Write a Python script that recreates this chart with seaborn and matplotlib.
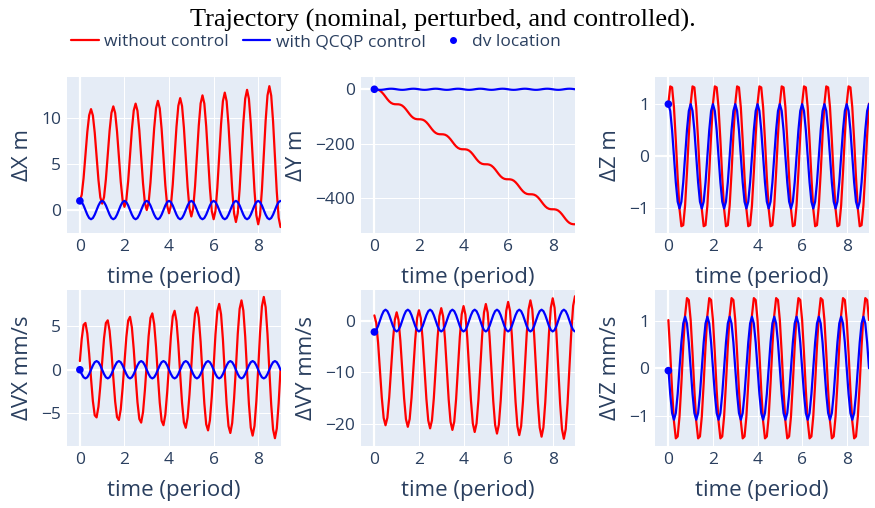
import numpy as np
import pandas as pd
import matplotlib
matplotlib.use("Agg")
import matplotlib.pyplot as plt
from matplotlib.lines import Line2D
import seaborn as sns

# ---------------- data ----------------
# samples every 1/12 of an orbital period, t = 0 ... 9
time_period = np.linspace(0, 9, 109)

dx_red = [1.0, 1.67, 3.5, 6.0, 8.5, 10.33, 11.0, 10.31, 8.43, 5.85, 3.28, 1.39,
          0.7, 1.41, 3.35, 6.0, 8.65, 10.59, 11.3, 10.57, 8.56, 5.83, 3.09, 1.08,
          0.35, 1.1, 3.16, 5.98, 8.79, 10.85, 11.6, 10.82, 8.7, 5.8, 2.9, 0.78,
          0.0, 0.8, 2.98, 5.95, 8.93, 11.1, 11.9, 11.08, 8.84, 5.78, 2.71, 0.47,
          -0.35, 0.49, 2.79, 5.93, 9.06, 11.36, 12.2, 11.34, 8.98, 5.75, 2.53, 0.16,
          -0.7, 0.18, 2.6, 5.9, 9.2, 11.62, 12.5, 11.6, 9.13, 5.75, 2.38, -0.1,
          -1.0, -0.08, 2.45, 5.9, 9.35, 11.88, 12.8, 11.86, 9.28, 5.75, 2.23, -0.36,
          -1.3, -0.34, 2.3, 5.9, 9.5, 12.14, 13.1, 12.12, 9.44, 5.78, 2.11, -0.57,
          -1.55, -0.54, 2.21, 5.98, 9.74, 12.49, 13.5, 12.47, 9.66, 5.83, 1.99, -0.82,
          -1.85]
dx_blue = [1.0, 0.87, 0.5, 0.0, -0.5, -0.87, -1.0, -0.87, -0.5, 0.0, 0.5, 0.87,
           1.0, 0.87, 0.5, 0.0, -0.5, -0.87, -1.0, -0.87, -0.5, 0.0, 0.5, 0.87,
           1.0, 0.87, 0.5, 0.0, -0.5, -0.87, -1.0, -0.87, -0.5, 0.0, 0.5, 0.87,
           1.0, 0.87, 0.5, 0.0, -0.5, -0.87, -1.0, -0.87, -0.5, 0.0, 0.5, 0.87,
           1.0, 0.87, 0.5, 0.0, -0.5, -0.87, -1.0, -0.87, -0.5, 0.0, 0.5, 0.87,
           1.0, 0.87, 0.5, 0.0, -0.5, -0.87, -1.0, -0.87, -0.5, 0.0, 0.5, 0.87,
           1.0, 0.87, 0.5, 0.0, -0.5, -0.87, -1.0, -0.87, -0.5, 0.0, 0.5, 0.87,
           1.0, 0.87, 0.5, 0.0, -0.5, -0.87, -1.0, -0.87, -0.5, 0.0, 0.5, 0.87,
           1.0, 0.87, 0.5, 0.0, -0.5, -0.87, -1.0, -0.87, -0.5, 0.0, 0.5, 0.87,
           1.0]

dy_red = [0.0, -0.2, -1.6, -5.0, -10.8, -18.5, -27.5, -36.5, -44.3, -50.0, -53.4, -54.8,
          -55.0, -55.2, -56.6, -60.0, -65.8, -73.5, -82.5, -91.5, -99.3, -105.0, -108.4, -109.8,
          -110.0, -110.2, -111.6, -115.0, -120.8, -128.5, -137.5, -146.5, -154.3, -160.0, -163.4, -164.8,
          -165.0, -165.2, -166.6, -170.0, -175.8, -183.5, -192.5, -201.5, -209.3, -215.0, -218.4, -219.8,
          -220.0, -220.2, -221.6, -225.0, -230.8, -238.5, -247.5, -256.5, -264.3, -270.0, -273.4, -274.8,
          -275.0, -275.2, -276.6, -280.0, -285.8, -293.5, -302.5, -311.5, -319.3, -325.0, -328.4, -329.8,
          -330.0, -330.2, -331.6, -335.0, -340.8, -348.5, -357.5, -366.5, -374.3, -380.0, -383.4, -384.8,
          -385.0, -385.2, -386.6, -390.0, -395.8, -403.5, -412.5, -421.5, -429.3, -435.0, -438.4, -439.8,
          -440.0, -440.2, -441.6, -445.0, -450.8, -458.5, -467.5, -476.5, -484.3, -490.0, -493.4, -494.8,
          -495.0]
dy_blue = [0.0, -1.0, -1.73, -2.0, -1.73, -1.0, 0.0, 1.0, 1.73, 2.0, 1.73, 1.0,
           0.0, -1.0, -1.73, -2.0, -1.73, -1.0, 0.0, 1.0, 1.73, 2.0, 1.73, 1.0,
           0.0, -1.0, -1.73, -2.0, -1.73, -1.0, 0.0, 1.0, 1.73, 2.0, 1.73, 1.0,
           0.0, -1.0, -1.73, -2.0, -1.73, -1.0, 0.0, 1.0, 1.73, 2.0, 1.73, 1.0,
           0.0, -1.0, -1.73, -2.0, -1.73, -1.0, 0.0, 1.0, 1.73, 2.0, 1.73, 1.0,
           0.0, -1.0, -1.73, -2.0, -1.73, -1.0, 0.0, 1.0, 1.73, 2.0, 1.73, 1.0,
           0.0, -1.0, -1.73, -2.0, -1.73, -1.0, 0.0, 1.0, 1.73, 2.0, 1.73, 1.0,
           0.0, -1.0, -1.73, -2.0, -1.73, -1.0, 0.0, 1.0, 1.73, 2.0, 1.73, 1.0,
           0.0, -1.0, -1.73, -2.0, -1.73, -1.0, 0.0, 1.0, 1.73, 2.0, 1.73, 1.0,
           0.0]

dz_red = [1.01, 1.34, 1.32, 0.94, 0.31, -0.4, -1.01, -1.34, -1.32, -0.94, -0.31, 0.4,
          1.01, 1.34, 1.32, 0.94, 0.31, -0.4, -1.01, -1.34, -1.32, -0.94, -0.31, 0.4,
          1.01, 1.34, 1.32, 0.94, 0.31, -0.4, -1.01, -1.34, -1.32, -0.94, -0.31, 0.4,
          1.01, 1.34, 1.32, 0.94, 0.31, -0.4, -1.01, -1.34, -1.32, -0.94, -0.31, 0.4,
          1.01, 1.34, 1.32, 0.94, 0.31, -0.4, -1.01, -1.34, -1.32, -0.94, -0.31, 0.4,
          1.01, 1.34, 1.32, 0.94, 0.31, -0.4, -1.01, -1.34, -1.32, -0.94, -0.31, 0.4,
          1.01, 1.34, 1.32, 0.94, 0.31, -0.4, -1.01, -1.34, -1.32, -0.94, -0.31, 0.4,
          1.01, 1.34, 1.32, 0.94, 0.31, -0.4, -1.01, -1.34, -1.32, -0.94, -0.31, 0.4,
          1.01, 1.34, 1.32, 0.94, 0.31, -0.4, -1.01, -1.34, -1.32, -0.94, -0.31, 0.4,
          1.01]
dz_blue = [1.0, 0.87, 0.5, 0.0, -0.5, -0.87, -1.0, -0.87, -0.5, 0.0, 0.5, 0.87,
           1.0, 0.87, 0.5, 0.0, -0.5, -0.87, -1.0, -0.87, -0.5, 0.0, 0.5, 0.87,
           1.0, 0.87, 0.5, 0.0, -0.5, -0.87, -1.0, -0.87, -0.5, 0.0, 0.5, 0.87,
           1.0, 0.87, 0.5, 0.0, -0.5, -0.87, -1.0, -0.87, -0.5, 0.0, 0.5, 0.87,
           1.0, 0.87, 0.5, 0.0, -0.5, -0.87, -1.0, -0.87, -0.5, 0.0, 0.5, 0.87,
           1.0, 0.87, 0.5, 0.0, -0.5, -0.87, -1.0, -0.87, -0.5, 0.0, 0.5, 0.87,
           1.0, 0.87, 0.5, 0.0, -0.5, -0.87, -1.0, -0.87, -0.5, 0.0, 0.5, 0.87,
           1.0, 0.87, 0.5, 0.0, -0.5, -0.87, -1.0, -0.87, -0.5, 0.0, 0.5, 0.87,
           1.0, 0.87, 0.5, 0.0, -0.5, -0.87, -1.0, -0.87, -0.5, 0.0, 0.5, 0.87,
           1.0]

dvx_red = [1.0, 3.57, 5.18, 5.4, 4.18, 1.83, -1.0, -3.62, -5.26, -5.5, -4.26, -1.88,
           0.9, 3.63, 5.39, 5.7, 4.49, 2.07, -0.9, -3.68, -5.47, -5.8, -4.57, -2.12,
           0.8, 3.74, 5.68, 6.1, 4.88, 2.36, -0.8, -3.74, -5.68, -6.1, -4.88, -2.36,
           0.7, 3.86, 5.98, 6.5, 5.28, 2.64, -0.7, -3.81, -5.89, -6.4, -5.19, -2.59,
           0.55, 3.88, 6.17, 6.8, 5.61, 2.92, -0.55, -3.83, -6.08, -6.7, -5.52, -2.87,
           0.45, 3.99, 6.47, 7.2, 6.01, 3.21, -0.45, -3.89, -6.29, -7.0, -5.83, -3.11,
           0.35, 4.1, 6.76, 7.6, 6.4, 3.5, -0.35, -3.95, -6.5, -7.3, -6.14, -3.35,
           0.2, 4.17, 7.03, 8.0, 6.83, 3.83, -0.2, -3.97, -6.68, -7.6, -6.48, -3.63,
           0.1, 4.29, 7.32, 8.4, 7.22, 4.11, -0.1, -4.04, -6.89, -7.9, -6.79, -3.86,
           0.0]
dvx_blue = [0.0, -0.5, -0.87, -1.0, -0.87, -0.5, 0.0, 0.5, 0.87, 1.0, 0.87, 0.5,
            0.0, -0.5, -0.87, -1.0, -0.87, -0.5, 0.0, 0.5, 0.87, 1.0, 0.87, 0.5,
            0.0, -0.5, -0.87, -1.0, -0.87, -0.5, 0.0, 0.5, 0.87, 1.0, 0.87, 0.5,
            0.0, -0.5, -0.87, -1.0, -0.87, -0.5, 0.0, 0.5, 0.87, 1.0, 0.87, 0.5,
            0.0, -0.5, -0.87, -1.0, -0.87, -0.5, 0.0, 0.5, 0.87, 1.0, 0.87, 0.5,
            0.0, -0.5, -0.87, -1.0, -0.87, -0.5, 0.0, 0.5, 0.87, 1.0, 0.87, 0.5,
            0.0, -0.5, -0.87, -1.0, -0.87, -0.5, 0.0, 0.5, 0.87, 1.0, 0.87, 0.5,
            0.0, -0.5, -0.87, -1.0, -0.87, -0.5, 0.0, 0.5, 0.87, 1.0, 0.87, 0.5,
            0.0, -0.5, -0.87, -1.0, -0.87, -0.5, 0.0, 0.5, 0.87, 1.0, 0.87, 0.5,
            0.0]

dvy_red = [1.0, -0.42, -4.3, -9.6, -14.9, -18.78, -20.2, -18.74, -14.75, -9.3, -3.85, 0.14,
           1.6, 0.12, -3.92, -9.45, -14.98, -19.02, -20.5, -18.99, -14.88, -9.25, -3.63, 0.49,
           2.0, 0.47, -3.7, -9.4, -15.1, -19.27, -20.8, -19.25, -15.0, -9.2, -3.4, 0.85,
           2.4, 0.83, -3.47, -9.35, -15.23, -19.53, -21.1, -19.5, -15.13, -9.15, -3.18, 1.2,
           2.8, 1.17, -3.27, -9.35, -15.43, -19.87, -21.5, -19.85, -15.33, -9.15, -2.98, 1.55,
           3.2, 1.53, -3.05, -9.3, -15.55, -20.13, -21.8, -20.1, -15.45, -9.1, -2.75, 1.9,
           3.6, 1.88, -2.82, -9.25, -15.68, -20.38, -22.1, -20.36, -15.6, -9.1, -2.6, 2.16,
           3.9, 2.14, -2.67, -9.25, -15.83, -20.64, -22.4, -20.61, -15.73, -9.05, -2.38, 2.51,
           4.3, 2.48, -2.47, -9.25, -16.03, -20.98, -22.8, -20.96, -15.93, -9.05, -2.18, 2.86,
           4.7]
dvy_blue = [-2.1, -1.82, -1.05, 0.0, 1.05, 1.82, 2.1, 1.82, 1.05, 0.0, -1.05, -1.82,
            -2.1, -1.82, -1.05, 0.0, 1.05, 1.82, 2.1, 1.82, 1.05, 0.0, -1.05, -1.82,
            -2.1, -1.82, -1.05, 0.0, 1.05, 1.82, 2.1, 1.82, 1.05, 0.0, -1.05, -1.82,
            -2.1, -1.82, -1.05, 0.0, 1.05, 1.82, 2.1, 1.82, 1.05, 0.0, -1.05, -1.82,
            -2.1, -1.82, -1.05, 0.0, 1.05, 1.82, 2.1, 1.82, 1.05, 0.0, -1.05, -1.82,
            -2.1, -1.82, -1.05, 0.0, 1.05, 1.82, 2.1, 1.82, 1.05, 0.0, -1.05, -1.82,
            -2.1, -1.82, -1.05, 0.0, 1.05, 1.82, 2.1, 1.82, 1.05, 0.0, -1.05, -1.82,
            -2.1, -1.82, -1.05, 0.0, 1.05, 1.82, 2.1, 1.82, 1.05, 0.0, -1.05, -1.82,
            -2.1, -1.82, -1.05, 0.0, 1.05, 1.82, 2.1, 1.82, 1.05, 0.0, -1.05, -1.82,
            -2.1]

dvz_red = [1.01, 0.32, -0.46, -1.11, -1.47, -1.43, -1.01, -0.32, 0.46, 1.11, 1.47, 1.43,
           1.01, 0.32, -0.46, -1.11, -1.47, -1.43, -1.01, -0.32, 0.46, 1.11, 1.47, 1.43,
           1.01, 0.32, -0.46, -1.11, -1.47, -1.43, -1.01, -0.32, 0.46, 1.11, 1.47, 1.43,
           1.01, 0.32, -0.46, -1.11, -1.47, -1.43, -1.01, -0.32, 0.46, 1.11, 1.47, 1.43,
           1.01, 0.32, -0.46, -1.11, -1.47, -1.43, -1.01, -0.32, 0.46, 1.11, 1.47, 1.43,
           1.01, 0.32, -0.46, -1.11, -1.47, -1.43, -1.01, -0.32, 0.46, 1.11, 1.47, 1.43,
           1.01, 0.32, -0.46, -1.11, -1.47, -1.43, -1.01, -0.32, 0.46, 1.11, 1.47, 1.43,
           1.01, 0.32, -0.46, -1.11, -1.47, -1.43, -1.01, -0.32, 0.46, 1.11, 1.47, 1.43,
           1.01, 0.32, -0.46, -1.11, -1.47, -1.43, -1.01, -0.32, 0.46, 1.11, 1.47, 1.43,
           1.01]
dvz_blue = [0.0, -0.54, -0.94, -1.08, -0.94, -0.54, 0.0, 0.54, 0.94, 1.08, 0.94, 0.54,
            0.0, -0.54, -0.94, -1.08, -0.94, -0.54, 0.0, 0.54, 0.94, 1.08, 0.94, 0.54,
            0.0, -0.54, -0.94, -1.08, -0.94, -0.54, 0.0, 0.54, 0.94, 1.08, 0.94, 0.54,
            0.0, -0.54, -0.94, -1.08, -0.94, -0.54, 0.0, 0.54, 0.94, 1.08, 0.94, 0.54,
            0.0, -0.54, -0.94, -1.08, -0.94, -0.54, 0.0, 0.54, 0.94, 1.08, 0.94, 0.54,
            0.0, -0.54, -0.94, -1.08, -0.94, -0.54, 0.0, 0.54, 0.94, 1.08, 0.94, 0.54,
            0.0, -0.54, -0.94, -1.08, -0.94, -0.54, 0.0, 0.54, 0.94, 1.08, 0.94, 0.54,
            0.0, -0.54, -0.94, -1.08, -0.94, -0.54, 0.0, 0.54, 0.94, 1.08, 0.94, 0.54,
            0.0, -0.54, -0.94, -1.08, -0.94, -0.54, 0.0, 0.54, 0.94, 1.08, 0.94, 0.54,
            0.0]

dv_time = [0.0]
dv_values = {"dx": [1.0], "dy": [0.0], "dz": [1.0],
             "dvx": [0.0], "dvy": [-2.2], "dvz": [-0.05]}

panel_labels = ["ΔX m", "ΔY m", "ΔZ m", "ΔVX mm/s", "ΔVY mm/s", "ΔVZ mm/s"]
panel_keys = ["dx", "dy", "dz", "dvx", "dvy", "dvz"]
red_series = [dx_red, dy_red, dz_red, dvx_red, dvy_red, dvz_red]
blue_series = [dx_blue, dy_blue, dz_blue, dvx_blue, dvy_blue, dvz_blue]
y_ticks = [[0, 5, 10], [-400, -200, 0], [-1, 0, 1],
           [-5, 0, 5], [-20, -10, 0], [-1, 0, 1]]
y_limits = [(-2.5, 14.5), (-527, 45), (-1.47, 1.52),
            (-8.8, 9.2), (-24.2, 5.9), (-1.63, 1.64)]
x_ticks = [0, 2, 4, 6, 8]
legend_labels = ["without control", "with QCQP control", "dv location"]
title_text = "Trajectory (nominal, perturbed, and controlled)."

# ---------------- styling ----------------
sns.set_theme(style="darkgrid", rc={
    "axes.facecolor": "#E5ECF6",
    "grid.color": "white",
    "grid.linewidth": 0.75,
    "axes.edgecolor": "#E5ECF6",
})
plt.rcParams["font.family"] = ["Open Sans", "DejaVu Sans"]
text_color = "#2a3f5f"

W, H = 875, 508
fig = plt.figure(figsize=(W / 100, H / 100), dpi=100)

col_left = [66.5, 361, 655]
row_top = [77, 290]
ax_w, ax_h = 214, 156

for i in range(6):
    r, c = divmod(i, 3)
    left = col_left[c] / W
    bottom = (H - row_top[r] - ax_h) / H
    ax = fig.add_axes([left, bottom, ax_w / W, ax_h / H])
    df = pd.DataFrame({"t": time_period, "red": red_series[i], "blue": blue_series[i]})
    ax.axhline(0, color="white", lw=1.6, zorder=1)
    ax.axvline(0, color="white", lw=1.6, zorder=1)
    sns.lineplot(data=df, x="t", y="red", ax=ax, color="red", lw=1.6, zorder=3)
    sns.lineplot(data=df, x="t", y="blue", ax=ax, color="blue", lw=1.6, zorder=4)
    dvd = pd.DataFrame({"t": dv_time, "v": dv_values[panel_keys[i]]})
    sns.scatterplot(data=dvd, x="t", y="v", ax=ax, color="blue", s=30,
                    edgecolor="none", zorder=5)
    ax.set_xlim(-0.6, 9.0)
    ax.set_ylim(*y_limits[i])
    ax.set_xticks(x_ticks)
    ax.set_yticks(y_ticks[i])
    ax.set_yticklabels([str(v).replace("-", "\u2212") for v in y_ticks[i]])
    ax.tick_params(axis="both", length=0, labelsize=12.5, colors=text_color)
    ax.tick_params(axis="x", pad=4)
    ax.tick_params(axis="y", pad=4)
    ax.set_xlabel("time (period)", fontsize=16, color=text_color, labelpad=9)
    ax.set_ylabel(panel_labels[i], fontsize=16, color=text_color, labelpad=6)
    for s in ax.spines.values():
        s.set_visible(False)

fig.text(443 / W, 1 - 20 / H, title_text,
         ha="center", va="center", fontsize=19, family="Liberation Serif", color="black")

handles = [Line2D([0], [0], color="red", lw=1.6),
           Line2D([0], [0], color="blue", lw=1.6),
           Line2D([0], [0], color="blue", lw=0, marker="o", markersize=4)]
leg = fig.legend(handles, legend_labels,
                 loc="center left", bbox_to_anchor=(71 / W, 1 - 42 / H), ncol=3,
                 frameon=False, fontsize=12.5, handlelength=1.6, handletextpad=0.3,
                 columnspacing=0.8, borderaxespad=0, borderpad=0)
for t in leg.get_texts():
    t.set_color(text_color)

fig.savefig("out.png", dpi=100, facecolor="white")
